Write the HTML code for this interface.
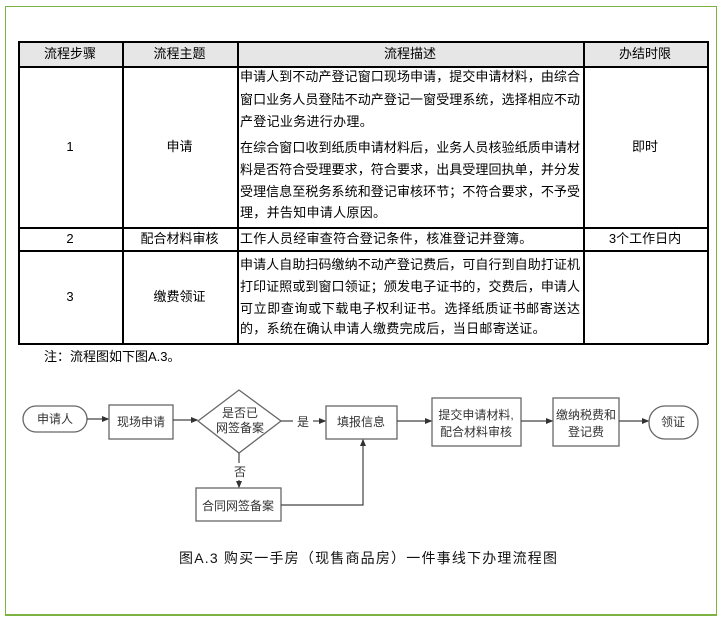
<!DOCTYPE html>
<html><head><meta charset="utf-8"><style>
body{margin:0;width:725px;height:622px;background:#fff;position:relative;overflow:hidden;font-family:"Liberation Sans","Noto Sans CJK SC",sans-serif;color:#000}
.a{position:absolute}
.frame{left:5px;top:6px;width:710px;height:607px;border:1.5px solid #7cb342;border-bottom:2px solid #7cb342}
.h{position:absolute;top:42px;height:24px;background:#e6e6e6}
.vl{position:absolute;width:1.5px;background:#000}
.hl{position:absolute;height:1.5px;background:#000;left:18px;width:690px}
.c{position:absolute;font-size:13px;text-align:center;line-height:16px}
.t{position:absolute;left:240px;width:340px;font-size:13px;line-height:16px;text-align:justify;text-align-last:justify;white-space:nowrap;letter-spacing:0px}
.l{text-align-last:left;width:auto;letter-spacing:0.3px}
</style></head><body>
<div class="a frame"></div>
<div class="h" style="left:18px;width:690px"></div>
<div class="hl" style="top:41px"></div>
<div class="hl" style="top:66px"></div>
<div class="hl" style="top:227px"></div>
<div class="hl" style="top:250px"></div>
<div class="hl" style="top:343px"></div>
<div class="vl" style="left:18px;top:41px;height:303px"></div>
<div class="vl" style="left:122px;top:41px;height:303px"></div>
<div class="vl" style="left:237px;top:41px;height:303px"></div>
<div class="vl" style="left:583px;top:41px;height:303px"></div>
<div class="vl" style="left:707px;top:41px;height:303px"></div>
<div class="c" style="left:18px;width:104px;top:46px">流程步骤</div>
<div class="c" style="left:122px;width:115px;top:46px">流程主题</div>
<div class="c" style="left:237px;width:346px;top:46px">流程描述</div>
<div class="c" style="left:583px;width:124px;top:46px">办结时限</div>
<div class="c" style="left:18px;width:104px;top:139px">1</div>
<div class="c" style="left:122px;width:115px;top:139px">申请</div>
<div class="c" style="left:583px;width:124px;top:139px">即时</div>
<div class="t" style="top:69px">申请人到不动产登记窗口现场申请，提交申请材料，由综合</div>
<div class="t" style="top:92px">窗口业务人员登陆不动产登记一窗受理系统，选择相应不动</div>
<div class="t l" style="top:114px">产登记业务进行办理。</div>
<div class="t" style="top:140px">在综合窗口收到纸质申请材料后，业务人员核验纸质申请材</div>
<div class="t" style="top:162px">料是否符合受理要求，符合要求，出具受理回执单，并分发</div>
<div class="t" style="top:184px">受理信息至税务系统和登记审核环节；不符合要求，不予受</div>
<div class="t l" style="top:205px">理，并告知申请人原因。</div>
<div class="c" style="left:18px;width:104px;top:231px">2</div>
<div class="c" style="left:122px;width:115px;top:231px">配合材料审核</div>
<div class="t l" style="top:231px">工作人员经审查符合登记条件，核准登记并登簿。</div>
<div class="c" style="left:583px;width:124px;top:231px">3个工作日内</div>
<div class="c" style="left:18px;width:104px;top:289px">3</div>
<div class="c" style="left:122px;width:115px;top:289px">缴费领证</div>
<div class="t" style="top:257px">申请人自助扫码缴纳不动产登记费后，可自行到自助打证机</div>
<div class="t" style="top:279px">打印证照或到窗口领证；颁发电子证书的，交费后，申请人</div>
<div class="t" style="top:301px">可立即查询或下载电子权利证书。选择纸质证书邮寄送达</div>
<div class="t l" style="top:321px">的，系统在确认申请人缴费完成后，当日邮寄送证。</div>
<div class="a" style="left:44px;top:349px;font-size:13px;line-height:16px">注：流程图如下图A.3。</div>

<svg class="a" style="left:0;top:0" width="725" height="622" font-family="Liberation Sans, Noto Sans CJK SC, sans-serif" font-size="12" fill="#333">
<defs><marker id="ar" markerWidth="6" markerHeight="6" refX="5" refY="3" orient="auto"><path d="M0,0.5 L6,3 L0,5.5z" fill="#333"/></marker></defs>
<g stroke="#666" stroke-width="1.3" fill="#fff">
<rect x="23" y="406" width="64" height="26" rx="13"/>
<rect x="109" y="405" width="64" height="34"/>
<polygon points="198,421 239,390 281,421 239,453"/>
<rect x="326" y="406" width="71" height="33"/>
<rect x="432" y="398" width="89" height="48"/>
<rect x="553" y="398" width="66" height="48"/>
<rect x="649" y="406" width="49" height="33" rx="16"/>
<rect x="196" y="488" width="85" height="33"/>
</g>
<g stroke="#444" stroke-width="1.2" fill="none" marker-end="url(#ar)">
<line x1="87" y1="419" x2="108" y2="419"/>
<line x1="173" y1="420" x2="197" y2="420"/>
<line x1="281" y1="421" x2="293" y2="421" marker-end="none"/>
<line x1="313" y1="421" x2="325" y2="421"/>
<line x1="397" y1="421" x2="431" y2="421"/>
<line x1="521" y1="421" x2="552" y2="421"/>
<line x1="619" y1="421" x2="648" y2="421"/>
<line x1="239" y1="453" x2="239" y2="463" marker-end="none"/>
<line x1="239" y1="480" x2="239" y2="487"/>
<polyline points="281,505 363,505 363,440"/>
</g>
<g text-anchor="middle" stroke="none" font-size="12">
<text x="55" y="423">申请人</text>
<text x="141" y="426">现场申请</text>
<text x="240" y="417">是否已</text>
<text x="240" y="432">网签备案</text>
<text x="303" y="426">是</text>
<text x="240" y="476">否</text>
<text x="361" y="426">填报信息</text>
<text x="476" y="419">提交申请材料,</text>
<text x="476" y="436">配合材料审核</text>
<text x="586" y="419">缴纳税费和</text>
<text x="586" y="436">登记费</text>
<text x="673" y="426">领证</text>
<text x="238" y="510">合同网签备案</text>
</g>
<text x="368" y="563" text-anchor="middle" font-size="14" fill="#111" textLength="378" lengthAdjust="spacing">图A.3 购买一手房（现售商品房）一件事线下办理流程图</text>
</svg>
</body></html>
